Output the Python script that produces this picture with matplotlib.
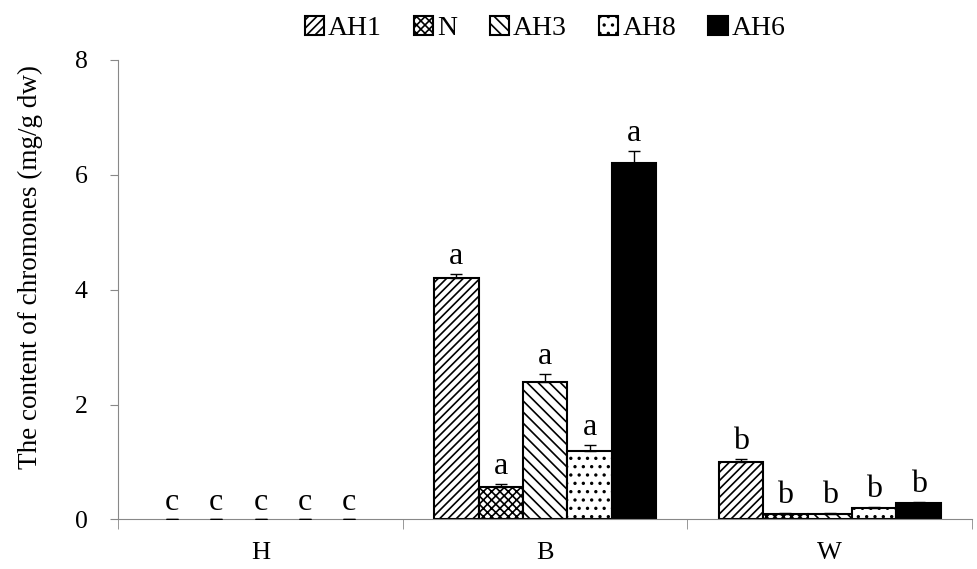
import numpy as np
import matplotlib.pyplot as plt

plt.rcParams.update({'font.family': 'serif', 'font.serif': ['Liberation Serif'], 'font.size': 17,
                     'hatch.linewidth': 1.2})

# Data
groups = ['H', 'B', 'W']
series = ['AH1', 'N', 'AH3', 'AH8', 'AH6']
values = {
    'AH1': [0, 4.2, 1.0],
    'N':   [0, 0.57, 0.09],
    'AH3': [0, 2.4, 0.1],
    'AH8': [0, 1.2, 0.2],
    'AH6': [0, 6.2, 0.28],
}
errors = {
    'AH1': [0, 0.08, 0.05],
    'N':   [0, 0.05, 0.02],
    'AH3': [0, 0.13, 0.02],
    'AH8': [0, 0.1, 0.02],
    'AH6': [0, 0.22, 0.03],
}
letters = {'H': 'c', 'B': 'a', 'W': 'b'}

hatches = ['////', 'xxxx', '\\\\\\', '..', None]
faces = ['white', 'white', 'white', 'white', 'black']

fig, ax = plt.subplots(figsize=(9.77, 5.69), dpi=100)
fig.subplots_adjust(left=0.121, right=0.995, top=0.895, bottom=0.087)

x = np.arange(len(groups))
width = 0.156
for i, s in enumerate(series):
    pos = x + (i - 2) * width
    lw = [1.5 if v > 0 else 0 for v in values[s]]
    ax.bar(pos, values[s], width, color=faces[i], edgecolor='black', linewidth=lw,
           hatch=hatches[i], label=s, zorder=2)
    ax.errorbar(pos, values[s], yerr=[np.zeros(3), errors[s]], fmt='none',
                ecolor='black', elinewidth=1, capsize=4, zorder=3)
    for j, g in enumerate(groups):
        top = values[s][j] + errors[s][j]
        ax.text(pos[j], top + 0.05, letters[g], ha='center', va='bottom', fontsize=23)

ax.set_xlim(-0.5, 2.5)
ax.set_ylim(0, 8)
ax.set_yticks([0, 2, 4, 6, 8])
ax.set_xticks(x)
ax.set_xticklabels(groups, fontsize=19)
ax.set_xticks([-0.5, 0.5, 1.5, 2.5], minor=True)
ax.tick_params(axis='x', which='major', length=0, pad=16)
ax.tick_params(axis='x', which='minor', length=7, direction='out', color='#888888')
ax.tick_params(axis='y', length=6, direction='out', color='#888888', pad=16, labelsize=18.5)
ax.set_ylabel('The content of chromones (mg/g dw)', fontsize=19.5)
ax.yaxis.set_label_coords(-0.088, 0.55)

for sp in ['top', 'right']:
    ax.spines[sp].set_visible(False)
ax.spines['left'].set_color('#888888')
ax.spines['bottom'].set_color('#888888')

leg = ax.legend(loc='upper center', bbox_to_anchor=(0.5, 1.15), ncol=5, frameon=False,
                handlelength=0.7, handleheight=0.7, handletextpad=0.15, columnspacing=1.15,
                fontsize=20)
for h in leg.legend_handles:
    h.set_linewidth(1.5)

plt.savefig('out.png', dpi=100)
